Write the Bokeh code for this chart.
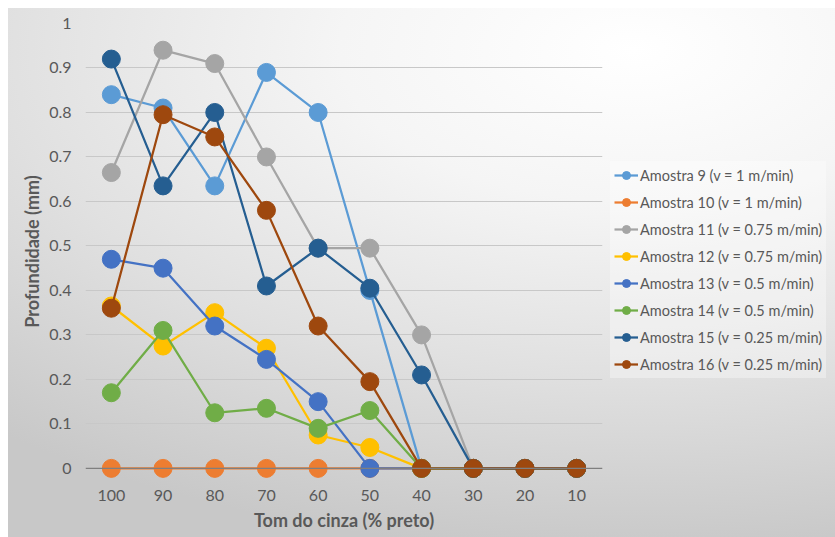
from bokeh.plotting import figure
from bokeh.models import FactorRange, Range1d, FixedTicker, Span, Legend, LegendItem, NumeralTickFormatter
from bokeh.embed import file_html
from bokeh.resources import INLINE

x_labels = ["100", "90", "80", "70", "60", "50", "40", "30", "20", "10"]
y_ticks = [0, 0.1, 0.2, 0.3, 0.4, 0.5, 0.6, 0.7, 0.8, 0.9, 1.0]

names = [
    "Amostra 9 (v = 1 m/min)",
    "Amostra 10 (v = 1 m/min)",
    "Amostra 11 (v = 0.75 m/min)",
    "Amostra 12 (v = 0.75 m/min)",
    "Amostra 13 (v = 0.5 m/min)",
    "Amostra 14 (v = 0.5 m/min)",
    "Amostra 15 (v = 0.25 m/min)",
    "Amostra 16 (v = 0.25 m/min)",
]
amostra9 = [0.84, 0.81, 0.635, 0.89, 0.80, 0.40, 0, 0, 0, 0]
amostra10 = [0, 0, 0, 0, 0, 0, 0, 0, 0, 0]
amostra11 = [0.665, 0.94, 0.91, 0.70, 0.495, 0.495, 0.30, 0, 0, 0]
amostra12 = [0.365, 0.275, 0.35, 0.27, 0.075, 0.047, 0, 0, 0, 0]
amostra13 = [0.47, 0.45, 0.32, 0.245, 0.15, 0, 0, 0, 0, 0]
amostra14 = [0.17, 0.31, 0.125, 0.135, 0.09, 0.13, 0, 0, 0, 0]
amostra15 = [0.92, 0.635, 0.80, 0.41, 0.495, 0.405, 0.21, 0, 0, 0]
amostra16 = [0.36, 0.795, 0.745, 0.58, 0.32, 0.195, 0, 0, 0, 0]
colors = ["#5B9BD5", "#ED7D31", "#A5A5A5", "#FFC000", "#4472C4", "#70AD47", "#255E91", "#9E480E"]
series = [amostra9, amostra10, amostra11, amostra12, amostra13, amostra14, amostra15, amostra16]

FONT = "Lato"
TXT = "#595959"

p = figure(
    frame_width=517, frame_height=456,
    x_range=FactorRange(*x_labels, range_padding=0),
    y_range=Range1d(-0.025, 1.0),
    output_backend="svg", toolbar_location=None,
    min_border_left=77, min_border_right=0, min_border_top=15, min_border_bottom=58,
    styles={
        "margin": "8px 0 0 8px",
        "background": "radial-gradient(ellipse 75% 95% at 48% 8%, #ffffff 0%, #f5f5f5 30%, #e0e0e0 65%, #c8c8c8 100%)",
    },
)
p.border_fill_alpha = 0
p.background_fill_alpha = 0
p.outline_line_color = None

# axes
p.yaxis.ticker = FixedTicker(ticks=y_ticks)
p.yaxis.formatter = NumeralTickFormatter(format="0.[0]")
p.yaxis.axis_line_color = None
p.yaxis.major_tick_line_color = None
p.yaxis.minor_tick_line_color = None
p.yaxis.major_label_standoff = 8
p.yaxis.major_label_text_font = FONT
p.yaxis.major_label_text_font_size = "16px"
p.yaxis.major_label_text_color = TXT
p.yaxis.axis_label = "Profundidade (mm)"
p.yaxis.axis_label_text_font = FONT
p.yaxis.axis_label_text_font_size = "18px"
p.yaxis.axis_label_text_font_style = "bold"
p.yaxis.axis_label_text_color = TXT
p.yaxis.axis_label_standoff = 3

p.xaxis.axis_line_color = None
p.xaxis.major_tick_line_color = None
p.xaxis.minor_tick_line_color = None
p.xaxis.major_label_standoff = 4
p.xaxis.major_label_text_font = FONT
p.xaxis.major_label_text_font_size = "16px"
p.xaxis.major_label_text_color = TXT
p.xaxis.axis_label = "Tom do cinza (% preto)"
p.xaxis.axis_label_text_font = FONT
p.xaxis.axis_label_text_font_size = "18px"
p.xaxis.axis_label_text_font_style = "bold"
p.xaxis.axis_label_text_color = TXT
p.xaxis.axis_label_standoff = 5

p.xgrid.grid_line_color = None
p.ygrid.grid_line_color = "#c8c8c8"
p.ygrid.grid_line_width = 1

p.add_layout(Span(location=y_ticks[0], dimension="width", line_color="#7f7f7f", line_width=1.2))

items = []
for name, vals, c in zip(names, series, colors):
    l = p.line(x_labels, vals, line_color=c, line_width=2.25)
    s = p.scatter(x_labels, vals, size=18, fill_color=c, line_color=c)
    items.append(LegendItem(label=name, renderers=[l, s]))

legend = Legend(items=items, location=(8, 101))
legend.label_text_font = FONT
legend.label_text_font_size = "14.5px"
legend.label_text_color = TXT
legend.glyph_width = 24
legend.glyph_height = 20
legend.label_height = 20
legend.label_standoff = 2
legend.spacing = 7
legend.padding = 4
legend.margin = 8
legend.border_line_alpha = 0
legend.background_fill_color = "white"
legend.background_fill_alpha = 0.35
p.add_layout(legend, "right")

open("out.html", "w").write(file_html(p, INLINE))
